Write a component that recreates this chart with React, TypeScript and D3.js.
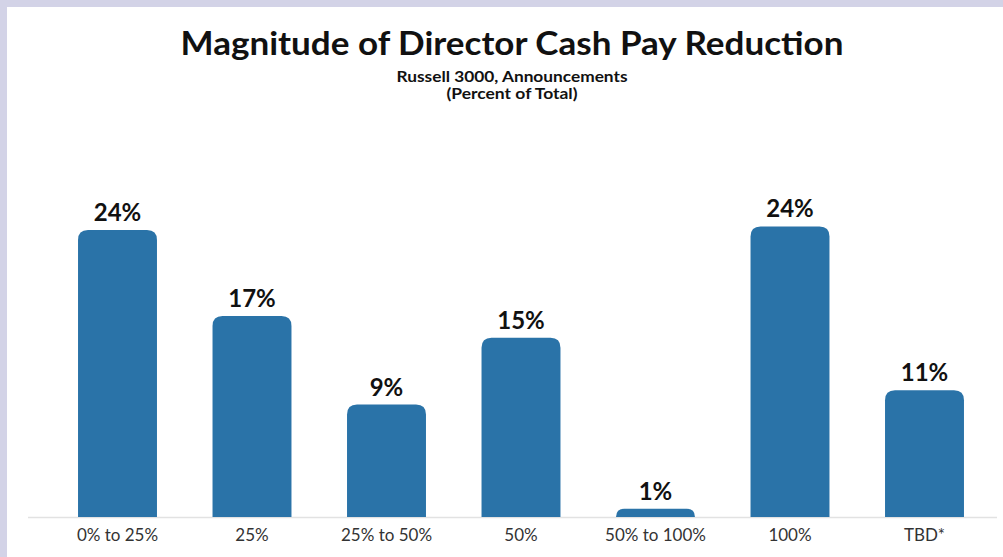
import React from "react";
import * as d3 from "d3";

const categories = ["0% to 25%", "25%", "25% to 50%", "50%", "50% to 100%", "100%", "TBD*"];
const values = [24.0, 16.8, 9.4, 15.0, 0.7, 24.3, 10.6];
const valueLabels = ["24%", "17%", "9%", "15%", "1%", "24%", "11%"];
const title = "Magnitude of Director Cash Pay Reduction";
const subtitle1 = "Russell 3000, Announcements";
const subtitle2 = "(Percent of Total)";

const W = 1003;
const H = 557;
const baseY = 517;
const FONT = "Lato, 'Open Sans', sans-serif";

function topRounded(x: number, y: number, w: number, h: number, r: number) {
  const rr = Math.min(r, h, w / 2);
  return `M${x},${y + h}V${y + rr}Q${x},${y} ${x + rr},${y}H${x + w - rr}Q${x + w},${y} ${x + w},${y + rr}V${y + h}Z`;
}

export default function App() {
  const pi = 0.413;
  const x = d3.scaleBand<string>().domain(categories).range([50.25, 991.75]).paddingInner(pi).paddingOuter(pi / 2);
  const y = d3.scaleLinear().domain([0, 24]).range([baseY, 230]);
  return (
    <div style={{ position: "fixed", left: 0, top: 0 }}>
      <svg width={W} height={H} style={{ display: "block" }}>
        <rect x={0} y={0} width={W} height={H} fill="#d3d3e7" />
        <rect x={7} y={7} width={W - 7} height={H - 7} fill="#ffffff" />
        <text x={512} y={55} textAnchor="middle" fontFamily={FONT} fontWeight={700} fontSize={32} fill="#111" textLength={663} lengthAdjust="spacingAndGlyphs">{title}</text>
        <text x={512} y={82} textAnchor="middle" fontFamily={FONT} fontWeight={700} fontSize={15} fill="#111" textLength={231} lengthAdjust="spacingAndGlyphs">{subtitle1}</text>
        <text x={512} y={99} textAnchor="middle" fontFamily={FONT} fontWeight={700} fontSize={15} fill="#111" textLength={131} lengthAdjust="spacingAndGlyphs">{subtitle2}</text>
        <line x1={28} x2={997} y1={baseY + 0.5} y2={baseY + 0.5} stroke="#e2e2e2" strokeWidth={1.5} />
        {categories.map((c, i) => {
          const bx = x(c)!;
          const bw = x.bandwidth();
          const top = y(values[i]);
          return (
            <g key={c}>
              <path d={topRounded(bx, top, bw, baseY - top, 10)} fill="#2a73a8" />
              <text x={bx + bw / 2} y={top - 9} textAnchor="middle" fontFamily={FONT} fontWeight={700} fontSize={24} fill="#111">{valueLabels[i]}</text>
              <text x={bx + bw / 2} y={541} textAnchor="middle" fontFamily={FONT} fontSize={17} fill="#333">{c}</text>
            </g>
          );
        })}
      </svg>
    </div>
  );
}
